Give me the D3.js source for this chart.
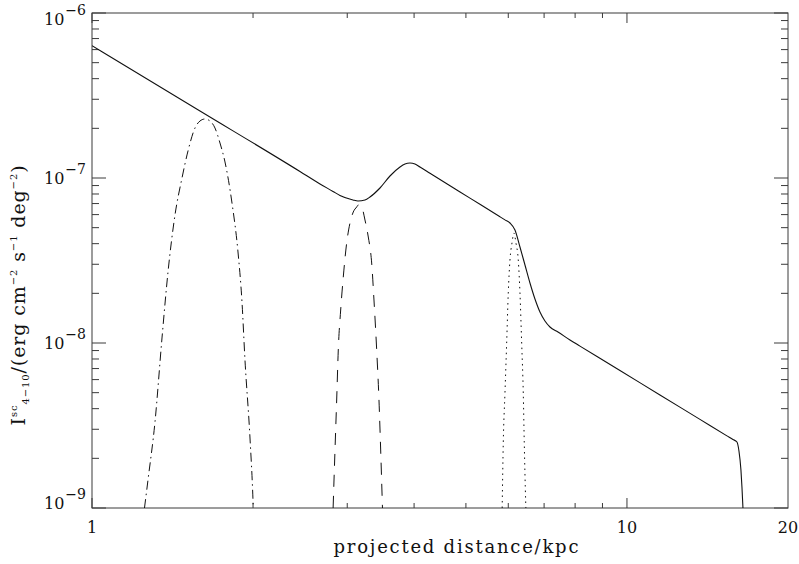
<!DOCTYPE html>
<html>
<head>
<meta charset="utf-8">
<script src="https://cdn.jsdelivr.net/npm/d3@7"></script>
<style>
  html, body { margin: 0; padding: 0; background: #fff; }
  svg { display: block; }
  text { font-family: "DejaVu Serif", "Liberation Serif", serif; fill: #111; }
</style>
</head>
<body>
<svg id="chart" width="799" height="564"></svg>
<script>
// Projected surface brightness profile (4-10 keV), log-log.
// x: projected distance in kpc, y: intensity in erg cm^-2 s^-1 deg^-2.

// total profile
const totalX = [1.000, 1.5917, 2.4477, 2.668, 2.8214, 2.9077, 3.0750, 3.1420, 3.2380, 3.3085,
  3.4539, 3.6058, 3.7645, 3.8464, 3.9299, 4.0155, 4.1028, 4.2833, 5.0879, 5.7892, 5.9150, 6.0438,
  6.1752, 6.3096, 6.4470, 6.5870, 6.7301, 6.8766, 7.0260, 7.1790, 7.4308, 7.8246,
  8.1686, 9.7033, 11.526, 13.692, 15.378, 15.781, 16.055, 16.194, 16.333, 16.404, 16.475, 16.51];
const totalY = [6.336e-7, 2.547e-7, 1.0949e-7, 9.197e-8, 8.2945e-8, 7.833e-8, 7.3565e-8, 7.2545e-8, 7.3565e-8, 7.671e-8,
  8.6974e-8, 1.0283e-7, 1.1659e-7, 1.2159e-7, 1.2330e-7, 1.2159e-7, 1.1659e-7, 1.0693e-7, 7.554e-8, 5.819e-8, 5.5726e-8, 5.3366e-8,
  4.840e-8, 3.8179e-8, 2.9698e-8, 2.3102e-8, 1.8479e-8, 1.5413e-8, 1.3594e-8, 1.2502e-8, 1.1659e-8, 1.0428e-8,
  9.5766e-9, 6.8129e-9, 4.840e-9, 3.4433e-9, 2.7351e-9, 2.6011e-9, 2.512e-9, 2.2154e-9, 1.6994e-9, 1.3405e-9, 1.0e-9, 9.0e-10];

// inner component (dash-dot)
const innerX = [1.2535, 1.2725, 1.3114, 1.3516, 1.3870, 1.4293, 1.4731, 1.5116, 1.5578, 1.5917, 1.6263,
  1.6617, 1.6978, 1.7348, 1.7726, 1.8268, 1.8746, 1.9071, 1.9318, 1.9739, 1.9996, 2.0020];
const innerY = [1.0e-9, 1.4781e-9, 3.3205e-9, 1.0723e-8, 2.6934e-8, 5.9671e-8, 1.0e-7, 1.4576e-7, 2.0093e-7, 2.2154e-7, 2.2782e-7,
  2.2154e-7, 2.0093e-7, 1.6297e-7, 1.2502e-7, 7.0548e-8, 3.5606e-8, 1.7721e-8, 7.888e-9, 2.6561e-9, 1.1180e-9, 1.0e-9];

// middle component (dashed)
const middleX = [2.8230, 2.8459, 2.8667, 2.8865, 2.9164, 2.9493, 2.9927, 3.0356, 3.0790, 3.1244, 3.1460,
  3.1924, 3.2380, 3.2844, 3.3327, 3.3658, 3.4053, 3.4391, 3.4643, 3.4912];
const middleY = [1.0e-9, 2.2466e-9, 4.5138e-9, 9.0694e-9, 1.5849e-8, 2.5119e-8, 4.0370e-8, 5.3366e-8, 6.2222e-8, 6.6717e-8, 6.8605e-8,
  6.6717e-8, 5.5648e-8, 4.3896e-8, 3.0539e-8, 1.8223e-8, 9.0694e-9, 4.5138e-9, 2.2466e-9, 1.0e-9];

// outer component (dotted)
const outerX = [5.8443, 5.8720, 5.9150, 5.9585, 5.9997, 6.0438, 6.0961, 6.1488, 6.2018, 6.2635, 6.3096,
  6.3560, 6.3999, 6.4275, 6.4662, 6.4719];
const outerY = [1.0e-9, 2.4771e-9, 4.9771e-9, 1.0e-8, 2.0093e-8, 3.1844e-8, 4.0370e-8, 4.6416e-8, 4.0370e-8, 3.1844e-8, 2.0093e-8,
  1.0e-8, 4.9771e-9, 2.4771e-9, 1.1e-9, 1.0e-9];

const xMajor = [1, 10];
const xMinor = [2, 3, 4, 5, 6, 7, 8, 9];
const xTickLabels = [{v: 1, t: "1"}, {v: 10, t: "10"}, {v: 20, t: "20"}];
const yMajor = [1e-9, 1e-8, 1e-7, 1e-6];
const yTickLabels = [{v: 1e-9, e: "9"}, {v: 1e-8, e: "8"}, {v: 1e-7, e: "7"}, {v: 1e-6, e: "6"}];

const L = 92, R = 788, T = 13, B = 508;

const svg = d3.select("#chart");
const x = d3.scaleLog().domain([1, 20]).range([L, R]);
const y = d3.scaleLog().domain([1e-9, 1e-6]).range([B, T]);

const yMinor = [];
for (let d = -9; d < -6; d++) for (let m = 2; m <= 9; m++) yMinor.push(m * Math.pow(10, d));

svg.append("defs").append("clipPath").attr("id", "plotclip")
  .append("rect").attr("x", L).attr("y", T).attr("width", R - L).attr("height", B - T);

const axisColor = "#3a3a3a";
const xTickMaj = 10, xTickMin = 5, yTickMaj = 14, yTickMin = 7;

// frame
svg.append("rect").attr("x", L).attr("y", T).attr("width", R - L).attr("height", B - T)
  .attr("fill", "none").attr("stroke", axisColor).attr("stroke-width", 1);

// ticks on all four sides, pointing inward
const ticks = svg.append("g").attr("stroke", axisColor).attr("stroke-width", 1);
const xTick = (v, len) => {
  ticks.append("line").attr("x1", x(v)).attr("x2", x(v)).attr("y1", B).attr("y2", B - len);
  ticks.append("line").attr("x1", x(v)).attr("x2", x(v)).attr("y1", T).attr("y2", T + len);
};
const yTick = (v, len) => {
  ticks.append("line").attr("y1", y(v)).attr("y2", y(v)).attr("x1", L).attr("x2", L + len);
  ticks.append("line").attr("y1", y(v)).attr("y2", y(v)).attr("x1", R).attr("x2", R - len);
};
xMajor.forEach(v => xTick(v, xTickMaj));
xMinor.forEach(v => xTick(v, xTickMin));
yMajor.forEach(v => yTick(v, yTickMaj));
yMinor.forEach(v => yTick(v, yTickMin));

// tick labels
svg.append("g").selectAll("text").data(xTickLabels).join("text")
  .attr("x", d => x(d.v)).attr("y", B + 25)
  .attr("text-anchor", "middle").attr("font-size", 16)
  .text(d => d.t);

// "10" is centred on its tick but kept inside the axis extent
const yl = svg.append("g").selectAll("text").data(yTickLabels).join("text")
  .attr("x", L - 6)
  .attr("y", d => Math.max(T + 12, Math.min(B + 1, y(d.v) + 6)))
  .attr("text-anchor", "end").attr("font-size", 16);
yl.append("tspan").text("10");
yl.append("tspan").attr("dx", 1).attr("dy", -10).attr("font-size", 14).text(d => "\u2212" + d.e);

// axis titles
svg.append("text").attr("x", 456).attr("y", 553).attr("text-anchor", "middle")
  .attr("font-size", 18).attr("textLength", 245).attr("lengthAdjust", "spacing")
  .text("projected distance/kpc");

const yt = svg.append("text").attr("transform", "translate(25,295) rotate(-90)")
  .attr("text-anchor", "middle").attr("font-size", 19).attr("letter-spacing", 0.9);
yt.append("tspan").text("I");
yt.append("tspan").attr("dy", -8).attr("font-size", 10).text("sc");
yt.append("tspan").attr("dy", 12).attr("font-size", 10).text("4\u221210");
yt.append("tspan").attr("dy", -4).text("/(erg cm");
yt.append("tspan").attr("dy", -8).attr("font-size", 10).text("\u22122");
yt.append("tspan").attr("dy", 8).text(" s");
yt.append("tspan").attr("dy", -8).attr("font-size", 10).text("\u22121");
yt.append("tspan").attr("dy", 8).text(" deg");
yt.append("tspan").attr("dy", -8).attr("font-size", 10).text("\u22122");
yt.append("tspan").attr("dy", 8).text(")");

// curves
const line = d3.line().x(d => x(d[0])).y(d => y(d[1])).curve(d3.curveMonotoneX);
const plot = svg.append("g").attr("clip-path", "url(#plotclip)").attr("fill", "none").attr("stroke", "#111");

plot.append("path").datum(d3.zip(innerX, innerY)).attr("d", line)
  .attr("stroke-width", 1).attr("stroke-dasharray", "9,4,1.5,4");
plot.append("path").datum(d3.zip(middleX, middleY)).attr("d", line)
  .attr("stroke-width", 1).attr("stroke-dasharray", "12,9");
plot.append("path").datum(d3.zip(outerX, outerY)).attr("d", line)
  .attr("stroke-width", 1).attr("stroke-dasharray", "1.5,4");
plot.append("path").datum(d3.zip(totalX, totalY)).attr("d", line)
  .attr("stroke-width", 1.1);
</script>
</body>
</html>
